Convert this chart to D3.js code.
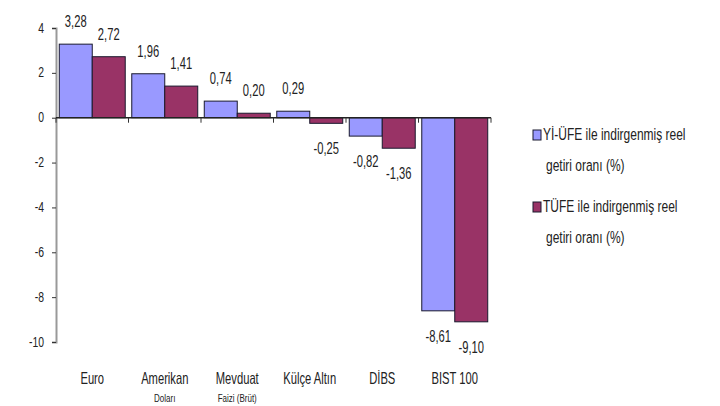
<!DOCTYPE html>
<html>
<head>
<meta charset="utf-8">
<script src="https://cdn.jsdelivr.net/npm/d3@7"></script>
<style>
  body { margin: 0; background: #fff; }
  text { font-family: "Liberation Sans", Arial, sans-serif; fill: #222; }
</style>
</head>
<body>
<svg id="chart" width="720" height="406"></svg>
<script>
// chart data
const categories = ["Euro", "Amerikan Doları", "Mevduat Faizi (Brüt)", "Külçe Altın", "DİBS", "BIST 100"];
const catLines = [["Euro"], ["Amerikan", "Doları"], ["Mevduat", "Faizi (Brüt)"], ["Külçe Altın"], ["DİBS"], ["BIST 100"]];
const seriesNames = ["Yİ-ÜFE ile indirgenmiş reel getiri oranı (%)", "TÜFE ile indirgenmiş reel getiri oranı (%)"];
const legendLines = [["Yİ-ÜFE ile indirgenmiş reel", "getiri oranı (%)"], ["TÜFE ile indirgenmiş reel", "getiri oranı (%)"]];
const yiufeValues = [3.28, 1.96, 0.74, 0.29, -0.82, -8.61];
const tufeValues = [2.72, 1.41, 0.20, -0.25, -1.36, -9.10];
const yTicks = [4, 2, 0, -2, -4, -6, -8, -10];
const colors = ["#9999ff", "#993366"];

const svg = d3.select("#chart");

// narrow-looking text, like the condensed font of the original
function narrowText(g, px, py, str, size, anchor) {
  return g.append("text")
    .attr("transform", `translate(${px},${py}) scale(0.8,1.12)`)
    .attr("text-anchor", anchor || "middle")
    .attr("font-size", size)
    .text(str);
}

const x = d3.scaleBand()
  .domain(categories)
  .range([56, 491])
  .paddingInner(0.09)
  .paddingOuter(0.045);

const y = d3.scaleLinear()
  .domain([-10, 4])
  .range([342, 28]);

const sub = d3.scaleBand()
  .domain([0, 1])
  .range([0, x.bandwidth()]);

const fmt = (v) => v.toFixed(2).replace(".", ",");

// y axis
const yAxis = svg.append("g")
  .attr("transform", "translate(56,0)")
  .call(d3.axisLeft(y).tickValues(yTicks).tickSize(4).tickFormat((d) => d));
yAxis.select(".domain").attr("stroke", "#999").attr("stroke-width", 2);
yAxis.selectAll(".tick line").attr("stroke", "#333");
yAxis.selectAll(".tick text").remove();
const yLab = svg.append("g");
yTicks.forEach((t) => narrowText(yLab, 44, y(t) + 4.5, t, 13, "end"));

// bars
const data = [];
categories.forEach((c, i) => {
  data.push({ cat: c, s: 0, v: yiufeValues[i] });
  data.push({ cat: c, s: 1, v: tufeValues[i] });
});

svg.append("g")
  .selectAll("rect")
  .data(data)
  .enter()
  .append("rect")
  .attr("x", (d) => x(d.cat) + sub(d.s))
  .attr("width", sub.bandwidth())
  .attr("y", (d) => y(Math.max(0, d.v)))
  .attr("height", (d) => Math.abs(y(d.v) - y(0)))
  .attr("fill", (d) => colors[d.s])
  .attr("stroke", "#1a1a2e")
  .attr("stroke-width", 1);

// zero line with category ticks
const boundaries = d3.range(categories.length + 1).map((i) => 56 + i * (435 / categories.length));
svg.append("line")
  .attr("x1", 56).attr("x2", 491)
  .attr("y1", y(0)).attr("y2", y(0))
  .attr("stroke", "#222").attr("stroke-width", 1.5);
svg.append("g")
  .selectAll("line")
  .data(boundaries)
  .enter()
  .append("line")
  .attr("x1", (d) => d).attr("x2", (d) => d)
  .attr("y1", y(0)).attr("y2", y(0) + 5)
  .attr("stroke", "#333");

// value labels
const valG = svg.append("g");
data.forEach((d) => {
  const px = x(d.cat) + sub(d.s) + sub.bandwidth() / 2;
  const py = d.v >= 0 ? y(d.v) - 17 : y(d.v) + 31;
  narrowText(valG, px, py, fmt(d.v), 14);
});

// category labels
const catG = svg.append("g");
catLines.forEach((lines, i) => {
  lines.forEach((t, j) => {
    narrowText(catG, x(categories[i]) + x.bandwidth() / 2, 384 + j * 18, t, j === 0 ? 14 : 10);
  });
});

// legend
const legend = svg.append("g");
legendLines.forEach((lines, i) => {
  const top = 130 + i * 72;
  legend.append("rect")
    .attr("x", 533).attr("y", top)
    .attr("width", 8).attr("height", 10)
    .attr("fill", colors[i])
    .attr("stroke", "#1a1a2e");
  lines.forEach((t, j) => {
    narrowText(legend, j === 0 ? 543 : 546, top + 10 + j * 31, t, 15, "start");
  });
});
</script>
</body>
</html>
